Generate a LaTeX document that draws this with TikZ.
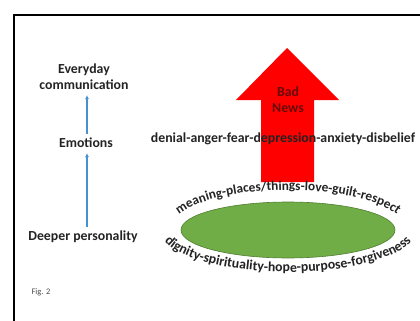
\documentclass[tikz,border=0pt]{standalone}
\usepackage{fontspec}
\setmainfont{Carlito}
\usepackage{tikz}
\usetikzlibrary{arrows.meta,decorations.text}
\usepackage{xcolor}
\definecolor{newsred}{RGB}{255,0,0}
\definecolor{newsdark}{RGB}{105,10,10}
\definecolor{levelblue}{RGB}{70,145,210}
\definecolor{coregreen}{RGB}{112,173,71}
\definecolor{coreedge}{RGB}{80,125,50}
\definecolor{inktext}{RGB}{35,35,35}

\tikzset{
  lbl/.style={font=\fontsize{13.8}{16}\selectfont\bfseries,text=inktext,align=center,inner sep=1pt},
  levelarrow/.style={levelblue,line width=1.3pt,-{Latex[length=4pt,width=4pt]}},
}

\begin{document}
\begin{tikzpicture}[x=1pt,y=-1pt]
\useasboundingbox (0,0) rectangle (420,321);
% frame
\draw[line width=2.5pt,line cap=rect] (14,321)--(14,15)--(420,15);
% levels on the left
\node[lbl] (everyday) at (84,77) {Everyday\\communication};
\node[lbl] (emotions) at (86,143) {Emotions};
\node[lbl] (deeper) at (83,237) {Deeper personality};
\draw[levelarrow,shorten <=3pt,shorten >=4pt](deeper.north-|87,0)--(emotions.south-|87,0);
\draw[levelarrow,shorten <=3pt,shorten >=4pt](emotions.north-|87,0)--(everyday.south-|87,0);
\node[font=\fontsize{8.5}{10}\selectfont,text=black!70] (fig) at (41,292) {Fig. 2};
% bad news arrow
\fill[newsred](287,48)--(339,100)--(314,100)--(314,182)--(261,182)--(261,100)--(236,100)--cycle;
\node[lbl,text=newsdark] (news) at (288,100) {Bad\\News};
\node[lbl] (reactions) at (283,139) {denial-anger-fear-depression-anxiety-disbelief};
% core values
\draw[fill=coregreen,draw=coreedge,line width=0.6pt] (288,230) ellipse [x radius=107,y radius=28];
\path[decorate,decoration={text along path,text align=center,
  text={|\fontsize{13.3}{15}\selectfont\bfseries\color{inktext}|meaning-places/things-love-guilt-respect}}]
  (288,230) ++(168:118 and 40) arc[start angle=168,end angle=372,x radius=118,y radius=40];
\path[decorate,decoration={text along path,text align=center,
  text={|\fontsize{13.8}{15}\selectfont\bfseries\color{inktext}|dignity-spirituality-hope-purpose-forgiveness}}]
  (288,230) ++(200:128 and 42) arc[start angle=200,end angle=-20,x radius=128,y radius=42];
\end{tikzpicture}
\end{document}
